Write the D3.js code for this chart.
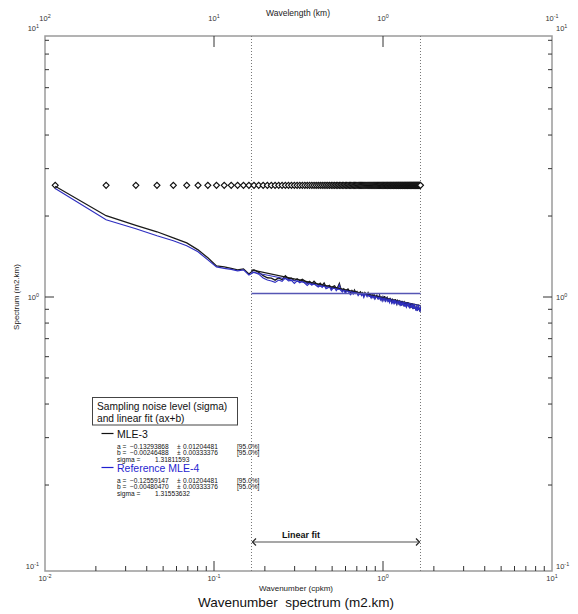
<!DOCTYPE html>
<html>
<head>
<meta charset="utf-8">
<script src="https://cdn.jsdelivr.net/npm/d3@7"></script>
<style>
  body { margin: 0; background: #fff; }
  text { font-family: "Liberation Sans", Arial, Helvetica, sans-serif; }
</style>
</head>
<body>
<svg id="chart" width="578" height="614"></svg>
<script>
// Wavenumber grid: 290 samples at 0.3 km -> step 1/87 cpkm, Nyquist 5/3 cpkm
const K_STEP = 1 / 87;
const N_BINS = 145;

// Sampling noise level (diamonds)
const noiseLevel = 2.6;

// Spectrum estimate MLE-3 (m2.km), one value per wavenumber bin
const mle3 = [
  2.580, 2.005, 1.848, 1.748, 1.660, 1.590, 1.497, 1.398, 1.305, 1.294,
  1.277, 1.261, 1.272, 1.218, 1.262, 1.235, 1.200, 1.179, 1.175, 1.155,
  1.178, 1.159, 1.200, 1.169, 1.174, 1.150, 1.169, 1.151, 1.164, 1.146,
  1.124, 1.143, 1.121, 1.145, 1.123, 1.108, 1.126, 1.104, 1.128, 1.091,
  1.099, 1.106, 1.076, 1.093, 1.101, 1.077, 1.090, 1.124, 1.073, 1.059,
  1.072, 1.049, 1.062, 1.071, 1.052, 1.034, 1.057, 1.040, 1.063, 1.040,
  1.048, 1.025, 1.038, 1.046, 1.024, 1.037, 1.009, 1.038, 1.026, 1.014,
  1.037, 1.015, 1.024, 1.002, 1.020, 1.003, 1.021, 0.989, 1.008, 1.016,
  0.994, 0.998, 1.016, 0.985, 0.998, 0.976, 1.000, 0.983, 1.007, 0.965,
  0.989, 0.997, 0.971, 0.979, 0.963, 0.992, 0.970, 0.955, 0.977, 0.961,
  0.970, 0.955, 0.982, 0.956, 0.941, 0.969, 0.958, 0.947, 0.970, 0.940,
  0.953, 0.933, 0.960, 0.940, 0.948, 0.924, 0.951, 0.936, 0.944, 0.924,
  0.938, 0.956, 0.926, 0.940, 0.910, 0.933, 0.922, 0.945, 0.916, 0.929,
  0.904, 0.922, 0.935, 0.906, 0.919, 0.895, 0.927, 0.908, 0.888, 0.915,
  0.924, 0.895, 0.908, 0.884, 0.920
];

// Spectrum estimate Reference MLE-4 (m2.km)
const mle4 = [
  2.529, 1.938, 1.794, 1.689, 1.618, 1.550, 1.472, 1.374, 1.294, 1.277,
  1.266, 1.251, 1.261, 1.208, 1.237, 1.216, 1.176, 1.157, 1.147, 1.133,
  1.156, 1.143, 1.177, 1.148, 1.153, 1.124, 1.148, 1.130, 1.149, 1.125,
  1.105, 1.124, 1.107, 1.126, 1.104, 1.089, 1.101, 1.086, 1.110, 1.074,
  1.081, 1.094, 1.059, 1.077, 1.084, 1.056, 1.074, 1.107, 1.057, 1.043,
  1.062, 1.034, 1.047, 1.056, 1.032, 1.020, 1.042, 1.026, 1.049, 1.031,
  1.034, 1.012, 1.025, 1.028, 1.012, 1.025, 0.997, 1.026, 1.019, 1.003,
  1.026, 1.004, 1.008, 0.991, 1.009, 0.993, 1.011, 0.984, 0.998, 1.006,
  0.984, 0.983, 1.007, 0.976, 0.989, 0.967, 0.996, 0.974, 0.999, 0.957,
  0.976, 0.989, 0.963, 0.971, 0.955, 0.990, 0.963, 0.948, 0.970, 0.949,
  0.963, 0.949, 0.976, 0.950, 0.940, 0.963, 0.952, 0.942, 0.960, 0.935,
  0.948, 0.928, 0.955, 0.940, 0.944, 0.920, 0.947, 0.927, 0.940, 0.920,
  0.935, 0.953, 0.928, 0.937, 0.907, 0.930, 0.914, 0.943, 0.914, 0.927,
  0.902, 0.925, 0.933, 0.905, 0.918, 0.890, 0.926, 0.907, 0.887, 0.915,
  0.929, 0.895, 0.908, 0.880, 0.920
];

// Linear fit band (cpkm) and log-log fit results: log10(S) = a*log10(k) + b
const fitBand = [1 / 6, 5 / 3];
const fitMLE3 = { a: -0.13293868, da: 0.01204481, b: -0.00246488, db: 0.00333376, sigma: 1.31811593 };
const fitMLE4 = { a: -0.12559147, da: 0.01204481, b: -0.00480470, db: 0.00333376, sigma: 1.31553632 };
const flatLevel = 1.03;

// Axis decades
const xDecades = [1e-2, 1e-1, 1e0, 1e1];
const topDecades = [1e2, 1e1, 1e0, 1e-1];
const yDecades = [1e-1, 1e0, 1e1];

const BLUE = "#2f2fc0";

const svg = d3.select("#chart");
const box = { l: 45, r: 552, t: 36, b: 571 };

const x = d3.scaleLog().domain([1e-2, 1e1]).range([box.l, box.r]);
const xTop = d3.scaleLog().domain([1e2, 1e-1]).range([box.l, box.r]);
const y = d3.scaleLog().domain([1e-1, 1e1]).range([566, 28]);

const wavenumbers = d3.range(1, N_BINS + 1).map(i => i * K_STEP);
const seriesA = wavenumbers.map((k, i) => ({ k, s: mle3[i] }));
const seriesB = wavenumbers.map((k, i) => ({ k, s: mle4[i] }));

const isDecade = v => Math.abs(Math.log10(v) - Math.round(Math.log10(v))) < 1e-9;

// power-of-ten label with superscript exponent
function powLabel(sel, v, size) {
  const e = Math.round(Math.log10(v));
  sel.append("tspan").text("10");
  sel.append("tspan").attr("dy", -3).attr("font-size", size * 0.72).text(e);
}

// ---- frame ----
svg.append("rect")
  .attr("x", box.l).attr("y", box.t)
  .attr("width", box.r - box.l).attr("height", box.b - box.t)
  .attr("fill", "none").attr("stroke", "#9a9a9a").attr("stroke-width", 1.5);

const tickG = svg.append("g").attr("stroke", "#333").attr("stroke-width", 1);

// bottom ticks
x.ticks().filter(t => x(t) > box.l + 1 && x(t) < box.r - 1).forEach(t => {
  const len = isDecade(t) ? 10 : 5;
  tickG.append("line").attr("x1", x(t)).attr("x2", x(t))
    .attr("y1", box.b).attr("y2", box.b - len);
});
// top ticks (decades only)
topDecades.filter(t => xTop(t) > box.l + 1 && xTop(t) < box.r - 1).forEach(t => {
  tickG.append("line").attr("x1", xTop(t)).attr("x2", xTop(t))
    .attr("y1", box.t).attr("y2", box.t + 11);
});
// left and right ticks
y.ticks().filter(t => y(t) > box.t + 1 && y(t) < box.b - 6).forEach(t => {
  const len = isDecade(t) ? 9 : 4;
  tickG.append("line").attr("x1", box.l).attr("x2", box.l + len)
    .attr("y1", y(t)).attr("y2", y(t));
  tickG.append("line").attr("x1", box.r).attr("x2", box.r - len)
    .attr("y1", y(t)).attr("y2", y(t));
});

// ---- tick labels ----
const LBL = 7.5;
xDecades.forEach(t => {
  svg.append("text").attr("x", x(t)).attr("y", 581).attr("text-anchor", "middle")
    .attr("font-size", LBL).attr("fill", "#333").call(powLabel, t, LBL);
});
topDecades.forEach(t => {
  svg.append("text").attr("x", xTop(t)).attr("y", 21).attr("text-anchor", "middle")
    .attr("font-size", LBL).attr("fill", "#333").call(powLabel, t, LBL);
});
yDecades.forEach(t => {
  svg.append("text").attr("x", 39).attr("y", y(t) + 3).attr("text-anchor", "end")
    .attr("font-size", LBL).attr("fill", "#333").call(powLabel, t, LBL);
  svg.append("text").attr("x", 556).attr("y", y(t) + 3).attr("text-anchor", "start")
    .attr("font-size", LBL).attr("fill", "#333").call(powLabel, t, LBL);
});

// axis titles
svg.append("text").attr("x", 298).attr("y", 16).attr("text-anchor", "middle")
  .attr("font-size", 8.5).attr("fill", "#222").text("Wavelength (km)");
svg.append("text").attr("x", 296).attr("y", 591).attr("text-anchor", "middle")
  .attr("font-size", 8).attr("fill", "#222").text("Wavenumber (cpkm)");
svg.append("text").attr("transform", "translate(19,297) rotate(-90)")
  .attr("text-anchor", "middle").attr("font-size", 8).attr("fill", "#222")
  .text("Spectrum (m2.km)");
svg.append("text").attr("x", 296).attr("y", 607).attr("text-anchor", "middle")
  .attr("font-size", 13.5).attr("fill", "#111").attr("xml:space", "preserve")
  .text("Wavenumber  spectrum (m2.km)");

// ---- fit band limits ----
fitBand.forEach(k => {
  svg.append("line").attr("x1", x(k)).attr("x2", x(k))
    .attr("y1", box.t).attr("y2", box.b)
    .attr("stroke", "#777").attr("stroke-width", 1).attr("stroke-dasharray", "1,2");
});

// ---- noise level diamonds ----
const diamond = d3.symbol().type(d3.symbolSquare).size(18);
svg.append("g").selectAll("path").data(wavenumbers).join("path")
  .attr("d", diamond)
  .attr("transform", k => `translate(${x(k)},${y(noiseLevel)}) rotate(45)`)
  .attr("fill", "#fff").attr("stroke", "#111").attr("stroke-width", 1.1);

// ---- spectra ----
const line = d3.line().x(d => x(d.k)).y(d => y(d.s));
svg.append("path").datum(seriesA).attr("d", line)
  .attr("fill", "none").attr("stroke", "#1a1a1a").attr("stroke-width", 1.3);
svg.append("path").datum(seriesB).attr("d", line)
  .attr("fill", "none").attr("stroke", BLUE).attr("stroke-width", 1.2);

// ---- linear fits over the band ----
const fitLine = f => fitBand.map(k => ({ k, s: Math.pow(10, f.a * Math.log10(k) + f.b) }));
svg.append("path").datum(fitLine(fitMLE3)).attr("d", line)
  .attr("fill", "none").attr("stroke", "#1a1a1a").attr("stroke-width", 1.2);
svg.append("path").datum(fitLine(fitMLE4)).attr("d", line)
  .attr("fill", "none").attr("stroke", BLUE).attr("stroke-width", 1.1);

svg.append("line")
  .attr("x1", x(fitBand[0])).attr("x2", x(fitBand[1]))
  .attr("y1", y(flatLevel)).attr("y2", y(flatLevel))
  .attr("stroke", "#5656b4").attr("stroke-width", 1.6);

// ---- fit band bracket ----
const by = 542;
const bx0 = x(fitBand[0]) + 1, bx1 = x(fitBand[1]) - 1;
svg.append("line").attr("x1", bx0).attr("x2", bx1).attr("y1", by).attr("y2", by)
  .attr("stroke", "#8a8a8a").attr("stroke-width", 1.6);
svg.append("path")
  .attr("d", `M${bx0 + 3.5},${by - 3.5} L${bx0},${by} L${bx0 + 3.5},${by + 3.5}
              M${bx1 - 3.5},${by - 3.5} L${bx1},${by} L${bx1 - 3.5},${by + 3.5}`)
  .attr("fill", "none").attr("stroke", "#222").attr("stroke-width", 1.2);
svg.append("text").attr("x", 282).attr("y", 538)
  .attr("font-size", 9).attr("font-weight", "bold").attr("fill", "#111")
  .text("Linear fit");

// ---- legend ----
const lg = svg.append("g");
lg.append("rect").attr("x", 92.5).attr("y", 397.5).attr("width", 145).attr("height", 27.5)
  .attr("fill", "#fff").attr("stroke", "#444").attr("stroke-width", 1);
lg.append("text").attr("x", 97).attr("y", 410).attr("font-size", 10.2).attr("fill", "#111")
  .text("Sampling noise level (sigma)");
lg.append("text").attr("x", 97).attr("y", 421.5).attr("font-size", 10.2).attr("fill", "#111")
  .text("and linear fit (ax+b)");

const fmt = d3.format(".8f");
function legendEntry(y0, name, color, f) {
  lg.append("line").attr("x1", 101.5).attr("x2", 113.5).attr("y1", y0).attr("y2", y0)
    .attr("stroke", color).attr("stroke-width", 1.2);
  lg.append("text").attr("x", 117).attr("y", y0 + 4).attr("font-size", 10.5)
    .attr("fill", color).text(name);
  const rows = [["a =", f.a, f.da], ["b =", f.b, f.db]];
  rows.forEach((r, i) => {
    const yy = y0 + 15.5 + i * 6.3;
    const g = lg.append("g").attr("font-size", 6.6).attr("fill", "#111");
    g.append("text").attr("x", 117).attr("y", yy).text(r[0]);
    g.append("text").attr("x", 130).attr("y", yy).text(fmt(r[1]).replace("-", "\u2013"));
    g.append("text").attr("x", 177).attr("y", yy).text("\u00b1");
    g.append("text").attr("x", 183).attr("y", yy).text(fmt(r[2]));
    g.append("text").attr("x", 237).attr("y", yy).text("[95.0%]");
  });
  const ys = y0 + 15.5 + 2 * 6.3;
  lg.append("text").attr("x", 117).attr("y", ys).attr("font-size", 6.6).attr("fill", "#111")
    .text("sigma =");
  lg.append("text").attr("x", 155).attr("y", ys).attr("font-size", 6.6).attr("fill", "#111")
    .text(fmt(f.sigma));
}
legendEntry(433.5, "MLE-3", "#111", fitMLE3);
legendEntry(467.5, "Reference MLE-4", "#1f1fd0", fitMLE4);
</script>
</body>
</html>
